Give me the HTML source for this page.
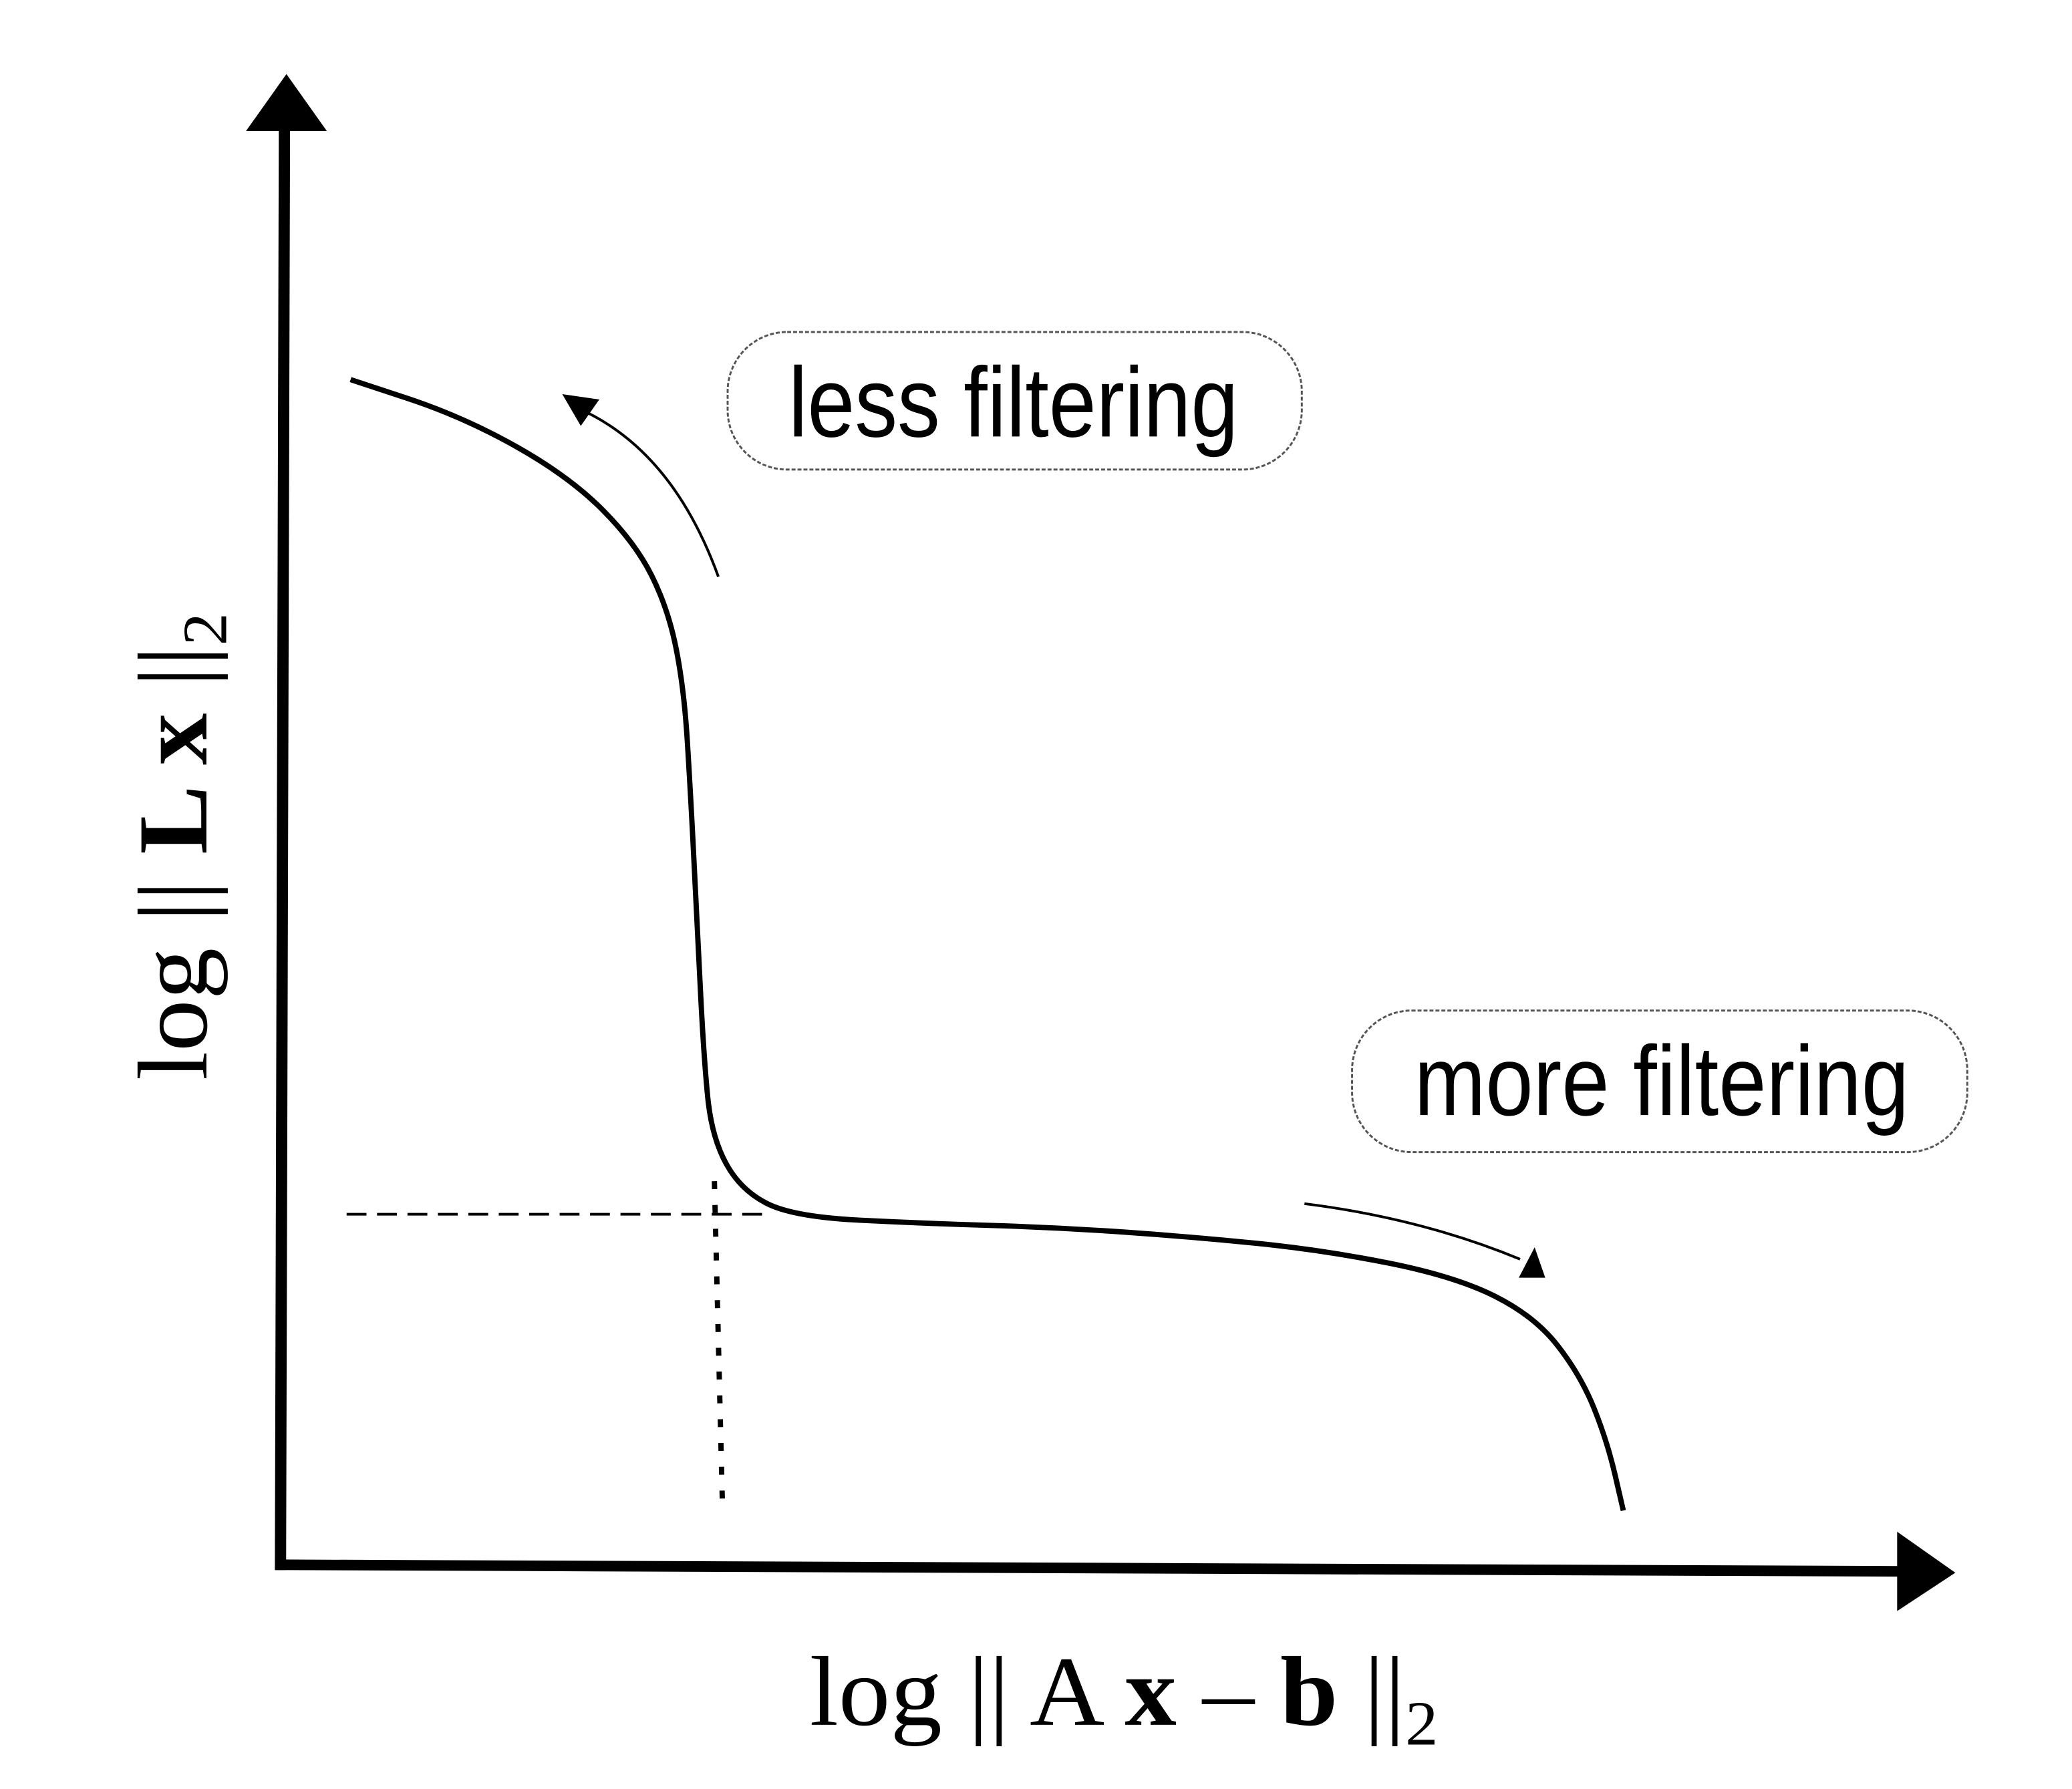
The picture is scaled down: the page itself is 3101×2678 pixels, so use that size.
<!DOCTYPE html>
<html><head><meta charset="utf-8"><style>
html,body{margin:0;padding:0;background:#fff;}
svg{display:block;}
</style></head><body>
<svg id="chart" width="3101" height="2678" viewBox="0 0 3101 2678" xmlns="http://www.w3.org/2000/svg">
<g transform="scale(0.99)">
<g>
<line x1="424" y1="2374" x2="430" y2="190" stroke="#000" stroke-width="17"/>
<polygon points="372,198 494,198 433,112" fill="#000"/>
</g>
<g>
<line x1="416" y1="2366" x2="2890" y2="2376" stroke="#000" stroke-width="16"/>
<polygon points="2868,2316 2956,2378 2868,2436" fill="#000"/>
</g>
<text transform="translate(312,1280) rotate(-90)" text-anchor="middle" font-family="Liberation Serif, serif" font-size="150" textLength="707" lengthAdjust="spacingAndGlyphs">log || <tspan font-weight="bold">L x</tspan> ||<tspan font-size="95" dy="30">2</tspan></text>
<text x="1224" y="2608" font-family="Liberation Serif, serif" font-size="150" textLength="950" lengthAdjust="spacingAndGlyphs">log || A <tspan font-weight="bold">x</tspan> – <tspan font-weight="bold">b</tspan> ||<tspan font-size="95" dy="30">2</tspan></text>
<g id="marks"></g>
<g>
<rect x="1100" y="502" width="868" height="208" rx="90" fill="none" stroke="#555" stroke-width="3" stroke-dasharray="6,3"/>
<text x="1192" y="660" font-family="Liberation Sans, sans-serif" font-size="150" textLength="680" lengthAdjust="spacingAndGlyphs">less filtering</text>
</g>
<g>
<rect x="2044" y="1528" width="930" height="214" rx="90" fill="none" stroke="#555" stroke-width="3" stroke-dasharray="6,3"/>
<text x="2138" y="1686" font-family="Liberation Sans, sans-serif" font-size="150" textLength="748" lengthAdjust="spacingAndGlyphs">more filtering</text>
</g>
<g>
<path d="M1086,872 Q1020,690 888,624" fill="none" stroke="#000" stroke-width="4"/>
<polygon points="850,596 906,604 878,644" fill="#000"/>
</g>
<g>
<path d="M1972,1820 Q2148,1842 2298,1904" fill="none" stroke="#000" stroke-width="4"/>
<polygon points="2336,1932 2296,1932 2320,1886" fill="#000"/>
</g>
</g>
</svg>
<script>
const curveX = [265,350,430,480,505,517,522,527,532,538,560,600,700,800,900,1000,1100,1160,1195,1215,1227];
const curveY = [287,315,360,410,460,520,600,700,800,860,900,920,925,928,935,945,965,995,1040,1090,1142];
const cornerX = [540];
const cornerY = [918];
const hLineStart = [262];
const vLineEnd = [1135];
function sx(v){return v*2;}
function sy(v){return v*2;}
const g = document.getElementById('marks');
const NS = 'http://www.w3.org/2000/svg';
let d = '';
for(let i=0;i<curveX.length;i++){
  if(i===0){d+='M'+sx(curveX[0])+','+sy(curveY[0]);}
  else{
    const x0=sx(curveX[i-1]),y0=sy(curveY[i-1]),x1=sx(curveX[i]),y1=sy(curveY[i]);
    const xm=(x0+x1)/2,ym=(y0+y1)/2;
    d+=' Q'+x0+','+y0+' '+xm+','+ym;
    if(i===curveX.length-1) d+=' L'+x1+','+y1;
  }
}
const hl=document.createElementNS(NS,'line');


hl.setAttribute('x1',sx(hLineStart[0]));hl.setAttribute('y1',sy(cornerY[0]));
hl.setAttribute('x2',sx(cornerX[0])+80);hl.setAttribute('y2',sy(cornerY[0]));
hl.setAttribute('stroke','#000');hl.setAttribute('stroke-width','4');hl.setAttribute('stroke-dasharray','30,16');
g.appendChild(hl);
const vl=document.createElementNS(NS,'line');


vl.setAttribute('x1',sx(cornerX[0]));vl.setAttribute('y1',sy(cornerY[0])-50);
vl.setAttribute('x2',sx(cornerX[0])+12);vl.setAttribute('y2',sy(vLineEnd[0]));
vl.setAttribute('stroke','#000');vl.setAttribute('stroke-width','8');vl.setAttribute('stroke-dasharray','12,24');
g.appendChild(vl);
const p=document.createElementNS(NS,'path');


p.setAttribute('d',d);p.setAttribute('fill','none');p.setAttribute('stroke','#000');p.setAttribute('stroke-width','8');
g.appendChild(p);
</script>
</body></html>
